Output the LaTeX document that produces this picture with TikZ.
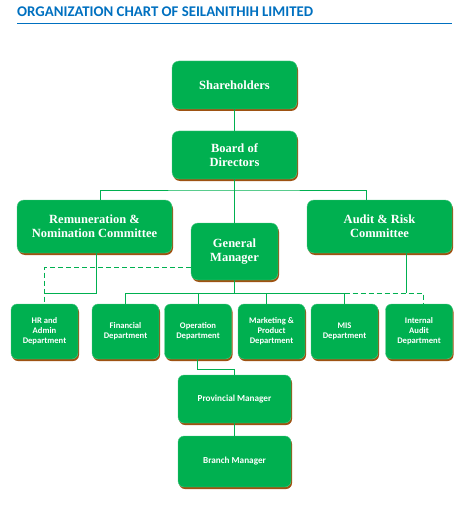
\documentclass[tikz,border=0pt]{standalone}
\usepackage{fontspec}
\usetikzlibrary{shadows,calc}
\newfontfamily\headfont{Carlito}
\newfontfamily\boxfont{Liberation Serif}
\definecolor{chartgreen}{RGB}{0,176,80}
\definecolor{chartbrown}{RGB}{158,82,18}
\definecolor{titleblue}{RGB}{0,112,192}

\begin{document}
\begin{tikzpicture}[x=1pt,y=-1pt,
  box/.style={rectangle, rounded corners=7pt, fill=chartgreen, draw=chartgreen!70!white,
    line width=0.4pt, text=white, align=center, inner sep=0pt,
    drop shadow={shadow xshift=1pt, shadow yshift=-2pt, fill=chartbrown, opacity=1}},
  bigbox/.style={box, font=\boxfont\bfseries\fontsize{12.5}{14}\selectfont},
  smallbox/.style={box, rounded corners=6pt, font=\headfont\bfseries\fontsize{8.6}{10}\selectfont},
  link/.style={draw=chartgreen, line width=0.9pt},
  dashlink/.style={link, dash pattern=on 5pt off 3pt}]
  \useasboundingbox (0,0) rectangle (474,505);

  % title
  \node[anchor=west, inner sep=0pt, text=titleblue,
    font=\headfont\bfseries\fontsize{14.8}{16}\selectfont] (title) at (17,12)
    {ORGANIZATION CHART OF SEILANITHIH LIMITED};
  \draw[titleblue, line width=1pt] (17,24) -- (452,24);

  % top levels
  \node[bigbox, minimum width=125pt, minimum height=48pt] (sh) at (234.5,85) {Shareholders};
  \node[bigbox, minimum width=125pt, minimum height=48pt] (bod) at (234.5,155) {Board of\\Directors};
  \node[bigbox, minimum width=155pt, minimum height=53pt] (rem) at (94.5,226.5)
    {Remuneration \&\\Nomination Committee};
  \node[bigbox, minimum width=145pt, minimum height=53pt] (arc) at (379.5,226.5)
    {Audit \& Risk\\Committee};
  \node[bigbox, minimum width=87pt, minimum height=57pt] (gm) at (234.5,251.5) {General\\Manager};

  % departments
  \foreach \name/\x/\label in {hr/44.5/{HR and\\Admin\\Department},
      fin/125.5/{Financial\\Department}, ops/198/{Operation\\Department},
      mkt/271.5/{Marketing \&\\Product\\Department}, mis/344.5/{MIS\\Department},
      iad/419/{Internal\\Audit\\Department}}
    \node[smallbox, minimum width=67pt, minimum height=55pt] (\name) at (\x,331.5) {\label};

  % field
  \node[smallbox, minimum width=113pt, minimum height=48pt, font=\headfont\bfseries\fontsize{9.2}{11}\selectfont]
    (prov) at (234.5,399) {Provincial Manager};
  \node[smallbox, minimum width=113pt, minimum height=51pt, font=\headfont\bfseries\fontsize{9.2}{11}\selectfont]
    (bra) at (234.5,461.5) {Branch Manager};

  % board links
  \coordinate (top bus) at (234.5,190);
  \draw[link] (sh) -- (bod);
  \draw[link] (bod) -- (gm);
  \draw[link] ($(rem.north)+(5.5,0)$) |- (top bus) -| ($(arc.north)+(-13.5,0)$);

  % gm links
  \coordinate (mid bus) at (234.5,293);
  \draw[link] (gm) -- (mid bus);
  \draw[link] (fin.north) |- (mid bus -| mis.north) -- (mis.north);
  \draw[link] (ops.north) -- (ops.north |- mid bus);
  \draw[link] ($(mkt.north)+(-5.5,0)$) -- ++(0,-11);
  \draw[dashlink] ($(gm.west)+(0,15.5)$) -| (hr.north);
  \draw[dashlink] (mis.north |- mid bus) -| ($(iad.north)+(4,0)$);

  % committee links
  \draw[link] ($(rem.south)+(1.5,0)$) |- (hr.north |- mid bus);
  \coordinate (arc drop) at ($(arc.south)+(26.5,0)$);
  \draw[link] (arc drop) -- (arc drop |- mid bus);

  % operation to field
  \draw[link] ($(ops.south)+(-1,0)$) -- ++(0,10) -| (prov.north);
  \draw[link] (prov) -- (bra);
\end{tikzpicture}
\end{document}
